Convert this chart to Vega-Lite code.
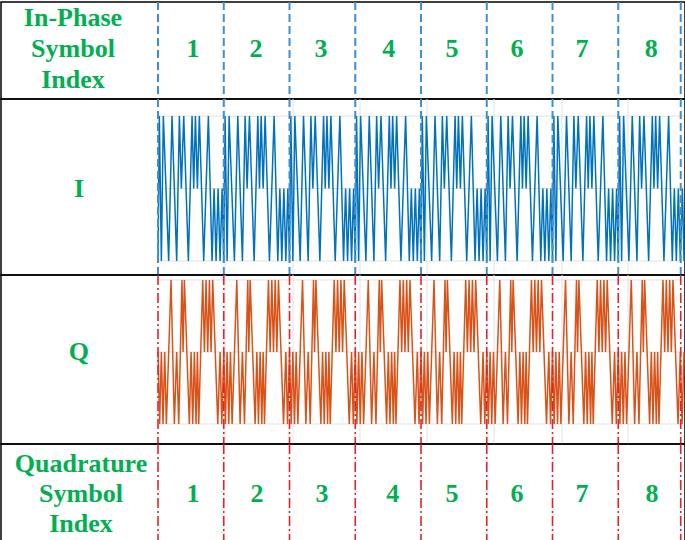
{
"$schema": "https://vega.github.io/schema/vega-lite/v6.json",
"padding": 0,
"spacing": 0,
"bounds": "flush",
"background": "white",
"config": {"view": {"stroke": "#000000", "strokeWidth": 1.5}},
"datasets": {
"hdr": [
{"x": -1.293, "y": 0.67, "label": "In-Phase\nSymbol\nIndex"},
{"x": 0.532, "y": 0.031, "label": "1"},{"x": 1.49, "y": 0.031, "label": "2"},{"x": 2.48, "y": 0.031, "label": "3"},{"x": 3.51, "y": 0.031, "label": "4"},
{"x": 4.47, "y": 0.031, "label": "5"},{"x": 5.46, "y": 0.031, "label": "6"},{"x": 6.45, "y": 0.031, "label": "7"},{"x": 7.5, "y": 0.031, "label": "8"}
],
"ftr": [
{"x": -1.171, "y": 0.588, "label": "Quadrature\nSymbol\nIndex"},
{"x": 0.532, "y": -0.03, "label": "1"},{"x": 1.505, "y": -0.03, "label": "2"},{"x": 2.495, "y": -0.03, "label": "3"},{"x": 3.57, "y": -0.03, "label": "4"},
{"x": 4.47, "y": -0.03, "label": "5"},{"x": 5.46, "y": -0.03, "label": "6"},{"x": 6.45, "y": -0.03, "label": "7"},{"x": 7.515, "y": -0.03, "label": "8"}
],
"bounds": [{"x": 0},{"x": 1},{"x": 2},{"x": 3},{"x": 4},{"x": 5},{"x": 6},{"x": 7},{"x": 7.95}],
"vgrid": [{"x": 1.019},{"x": 2.053},{"x": 3.072},{"x": 4.091},{"x": 5.11},{"x": 6.144},{"x": 7.148}],
"hgrid": [{"v": -1, "a": 0, "b": 8},{"v": 0, "a": 0, "b": 8},{"v": 1, "a": 0, "b": 8}],
"ilab": [{"x": -1.202, "v": 0, "label": "I"}],
"qlab": [{"x": -1.202, "v": 0, "label": "Q"}],
"iwave": [
{"x":0,"v":-1},{"x":0.02,"v":1},{"x":0.051,"v":-1},{"x":0.081,"v":1},{"x":0.162,"v":-1},{"x":0.213,"v":1},{"x":0.284,"v":-1},{"x":0.325,"v":1},{"x":0.355,"v":0},{"x":0.391,"v":1},{"x":0.462,"v":-1},{"x":0.518,"v":1},{"x":0.543,"v":0},{"x":0.569,"v":1},{"x":0.599,"v":0},{"x":0.629,"v":1},{"x":0.695,"v":-1},{"x":0.766,"v":1},{"x":0.822,"v":-1},{"x":0.853,"v":0},{"x":0.883,"v":-1},{"x":0.914,"v":0},{"x":0.944,"v":-1},{"x":0.975,"v":0},
{"x":1,"v":-1},{"x":1.02,"v":1},{"x":1.051,"v":-1},{"x":1.081,"v":1},{"x":1.162,"v":-1},{"x":1.213,"v":1},{"x":1.284,"v":-1},{"x":1.325,"v":1},{"x":1.355,"v":0},{"x":1.391,"v":1},{"x":1.462,"v":-1},{"x":1.518,"v":1},{"x":1.543,"v":0},{"x":1.569,"v":1},{"x":1.599,"v":0},{"x":1.629,"v":1},{"x":1.695,"v":-1},{"x":1.766,"v":1},{"x":1.822,"v":-1},{"x":1.853,"v":0},{"x":1.883,"v":-1},{"x":1.914,"v":0},{"x":1.944,"v":-1},{"x":1.975,"v":0},
{"x":2,"v":-1},{"x":2.02,"v":1},{"x":2.051,"v":-1},{"x":2.081,"v":1},{"x":2.162,"v":-1},{"x":2.213,"v":1},{"x":2.284,"v":-1},{"x":2.325,"v":1},{"x":2.355,"v":0},{"x":2.391,"v":1},{"x":2.462,"v":-1},{"x":2.518,"v":1},{"x":2.543,"v":0},{"x":2.569,"v":1},{"x":2.599,"v":0},{"x":2.629,"v":1},{"x":2.695,"v":-1},{"x":2.766,"v":1},{"x":2.822,"v":-1},{"x":2.853,"v":0},{"x":2.883,"v":-1},{"x":2.914,"v":0},{"x":2.944,"v":-1},{"x":2.975,"v":0},
{"x":3,"v":-1},{"x":3.02,"v":1},{"x":3.051,"v":-1},{"x":3.081,"v":1},{"x":3.162,"v":-1},{"x":3.213,"v":1},{"x":3.284,"v":-1},{"x":3.325,"v":1},{"x":3.355,"v":0},{"x":3.391,"v":1},{"x":3.462,"v":-1},{"x":3.518,"v":1},{"x":3.543,"v":0},{"x":3.569,"v":1},{"x":3.599,"v":0},{"x":3.629,"v":1},{"x":3.695,"v":-1},{"x":3.766,"v":1},{"x":3.822,"v":-1},{"x":3.853,"v":0},{"x":3.883,"v":-1},{"x":3.914,"v":0},{"x":3.944,"v":-1},{"x":3.975,"v":0},
{"x":4,"v":-1},{"x":4.02,"v":1},{"x":4.051,"v":-1},{"x":4.081,"v":1},{"x":4.162,"v":-1},{"x":4.213,"v":1},{"x":4.284,"v":-1},{"x":4.325,"v":1},{"x":4.355,"v":0},{"x":4.391,"v":1},{"x":4.462,"v":-1},{"x":4.518,"v":1},{"x":4.543,"v":0},{"x":4.569,"v":1},{"x":4.599,"v":0},{"x":4.629,"v":1},{"x":4.695,"v":-1},{"x":4.766,"v":1},{"x":4.822,"v":-1},{"x":4.853,"v":0},{"x":4.883,"v":-1},{"x":4.914,"v":0},{"x":4.944,"v":-1},{"x":4.975,"v":0},
{"x":5,"v":-1},{"x":5.02,"v":1},{"x":5.051,"v":-1},{"x":5.081,"v":1},{"x":5.162,"v":-1},{"x":5.213,"v":1},{"x":5.284,"v":-1},{"x":5.325,"v":1},{"x":5.355,"v":0},{"x":5.391,"v":1},{"x":5.462,"v":-1},{"x":5.518,"v":1},{"x":5.543,"v":0},{"x":5.569,"v":1},{"x":5.599,"v":0},{"x":5.629,"v":1},{"x":5.695,"v":-1},{"x":5.766,"v":1},{"x":5.822,"v":-1},{"x":5.853,"v":0},{"x":5.883,"v":-1},{"x":5.914,"v":0},{"x":5.944,"v":-1},{"x":5.975,"v":0},
{"x":6,"v":-1},{"x":6.02,"v":1},{"x":6.051,"v":-1},{"x":6.081,"v":1},{"x":6.162,"v":-1},{"x":6.213,"v":1},{"x":6.284,"v":-1},{"x":6.325,"v":1},{"x":6.355,"v":0},{"x":6.391,"v":1},{"x":6.462,"v":-1},{"x":6.518,"v":1},{"x":6.543,"v":0},{"x":6.569,"v":1},{"x":6.599,"v":0},{"x":6.629,"v":1},{"x":6.695,"v":-1},{"x":6.766,"v":1},{"x":6.822,"v":-1},{"x":6.853,"v":0},{"x":6.883,"v":-1},{"x":6.914,"v":0},{"x":6.944,"v":-1},{"x":6.975,"v":0},
{"x":7,"v":-1},{"x":7.02,"v":1},{"x":7.051,"v":-1},{"x":7.081,"v":1},{"x":7.162,"v":-1},{"x":7.213,"v":1},{"x":7.284,"v":-1},{"x":7.325,"v":1},{"x":7.355,"v":0},{"x":7.391,"v":1},{"x":7.462,"v":-1},{"x":7.518,"v":1},{"x":7.543,"v":0},{"x":7.569,"v":1},{"x":7.599,"v":0},{"x":7.629,"v":1},{"x":7.695,"v":-1},{"x":7.766,"v":1},{"x":7.822,"v":-1},{"x":7.853,"v":0},{"x":7.883,"v":-1},{"x":7.914,"v":0},{"x":7.944,"v":-1},{"x":7.975,"v":0},
{"x":8,"v":-1}
],
"qwave": [
{"x":0,"v":0},{"x":0.025,"v":-1},{"x":0.051,"v":0},{"x":0.076,"v":-1},{"x":0.102,"v":0},{"x":0.127,"v":-1},{"x":0.198,"v":1},{"x":0.249,"v":-1},{"x":0.284,"v":0},{"x":0.315,"v":-1},{"x":0.365,"v":1},{"x":0.381,"v":0},{"x":0.401,"v":1},{"x":0.477,"v":-1},{"x":0.503,"v":0},{"x":0.528,"v":-1},{"x":0.553,"v":0},{"x":0.579,"v":-1},{"x":0.599,"v":0},{"x":0.619,"v":-1},{"x":0.68,"v":1},{"x":0.706,"v":0},{"x":0.731,"v":1},{"x":0.756,"v":0},{"x":0.782,"v":1},{"x":0.807,"v":0},{"x":0.832,"v":1},{"x":0.909,"v":-1},{"x":0.944,"v":0},{"x":0.97,"v":-1},
{"x":1,"v":0},{"x":1.025,"v":-1},{"x":1.051,"v":0},{"x":1.076,"v":-1},{"x":1.102,"v":0},{"x":1.127,"v":-1},{"x":1.198,"v":1},{"x":1.249,"v":-1},{"x":1.284,"v":0},{"x":1.315,"v":-1},{"x":1.365,"v":1},{"x":1.381,"v":0},{"x":1.401,"v":1},{"x":1.477,"v":-1},{"x":1.503,"v":0},{"x":1.528,"v":-1},{"x":1.553,"v":0},{"x":1.579,"v":-1},{"x":1.599,"v":0},{"x":1.619,"v":-1},{"x":1.68,"v":1},{"x":1.706,"v":0},{"x":1.731,"v":1},{"x":1.756,"v":0},{"x":1.782,"v":1},{"x":1.807,"v":0},{"x":1.832,"v":1},{"x":1.909,"v":-1},{"x":1.944,"v":0},{"x":1.97,"v":-1},
{"x":2,"v":0},{"x":2.025,"v":-1},{"x":2.051,"v":0},{"x":2.076,"v":-1},{"x":2.102,"v":0},{"x":2.127,"v":-1},{"x":2.198,"v":1},{"x":2.249,"v":-1},{"x":2.284,"v":0},{"x":2.315,"v":-1},{"x":2.365,"v":1},{"x":2.381,"v":0},{"x":2.401,"v":1},{"x":2.477,"v":-1},{"x":2.503,"v":0},{"x":2.528,"v":-1},{"x":2.553,"v":0},{"x":2.579,"v":-1},{"x":2.599,"v":0},{"x":2.619,"v":-1},{"x":2.68,"v":1},{"x":2.706,"v":0},{"x":2.731,"v":1},{"x":2.756,"v":0},{"x":2.782,"v":1},{"x":2.807,"v":0},{"x":2.832,"v":1},{"x":2.909,"v":-1},{"x":2.944,"v":0},{"x":2.97,"v":-1},
{"x":3,"v":0},{"x":3.025,"v":-1},{"x":3.051,"v":0},{"x":3.076,"v":-1},{"x":3.102,"v":0},{"x":3.127,"v":-1},{"x":3.198,"v":1},{"x":3.249,"v":-1},{"x":3.284,"v":0},{"x":3.315,"v":-1},{"x":3.365,"v":1},{"x":3.381,"v":0},{"x":3.401,"v":1},{"x":3.477,"v":-1},{"x":3.503,"v":0},{"x":3.528,"v":-1},{"x":3.553,"v":0},{"x":3.579,"v":-1},{"x":3.599,"v":0},{"x":3.619,"v":-1},{"x":3.68,"v":1},{"x":3.706,"v":0},{"x":3.731,"v":1},{"x":3.756,"v":0},{"x":3.782,"v":1},{"x":3.807,"v":0},{"x":3.832,"v":1},{"x":3.909,"v":-1},{"x":3.944,"v":0},{"x":3.97,"v":-1},
{"x":4,"v":0},{"x":4.025,"v":-1},{"x":4.051,"v":0},{"x":4.076,"v":-1},{"x":4.102,"v":0},{"x":4.127,"v":-1},{"x":4.198,"v":1},{"x":4.249,"v":-1},{"x":4.284,"v":0},{"x":4.315,"v":-1},{"x":4.365,"v":1},{"x":4.381,"v":0},{"x":4.401,"v":1},{"x":4.477,"v":-1},{"x":4.503,"v":0},{"x":4.528,"v":-1},{"x":4.553,"v":0},{"x":4.579,"v":-1},{"x":4.599,"v":0},{"x":4.619,"v":-1},{"x":4.68,"v":1},{"x":4.706,"v":0},{"x":4.731,"v":1},{"x":4.756,"v":0},{"x":4.782,"v":1},{"x":4.807,"v":0},{"x":4.832,"v":1},{"x":4.909,"v":-1},{"x":4.944,"v":0},{"x":4.97,"v":-1},
{"x":5,"v":0},{"x":5.025,"v":-1},{"x":5.051,"v":0},{"x":5.076,"v":-1},{"x":5.102,"v":0},{"x":5.127,"v":-1},{"x":5.198,"v":1},{"x":5.249,"v":-1},{"x":5.284,"v":0},{"x":5.315,"v":-1},{"x":5.365,"v":1},{"x":5.381,"v":0},{"x":5.401,"v":1},{"x":5.477,"v":-1},{"x":5.503,"v":0},{"x":5.528,"v":-1},{"x":5.553,"v":0},{"x":5.579,"v":-1},{"x":5.599,"v":0},{"x":5.619,"v":-1},{"x":5.68,"v":1},{"x":5.706,"v":0},{"x":5.731,"v":1},{"x":5.756,"v":0},{"x":5.782,"v":1},{"x":5.807,"v":0},{"x":5.832,"v":1},{"x":5.909,"v":-1},{"x":5.944,"v":0},{"x":5.97,"v":-1},
{"x":6,"v":0},{"x":6.025,"v":-1},{"x":6.051,"v":0},{"x":6.076,"v":-1},{"x":6.102,"v":0},{"x":6.127,"v":-1},{"x":6.198,"v":1},{"x":6.249,"v":-1},{"x":6.284,"v":0},{"x":6.315,"v":-1},{"x":6.365,"v":1},{"x":6.381,"v":0},{"x":6.401,"v":1},{"x":6.477,"v":-1},{"x":6.503,"v":0},{"x":6.528,"v":-1},{"x":6.553,"v":0},{"x":6.579,"v":-1},{"x":6.599,"v":0},{"x":6.619,"v":-1},{"x":6.68,"v":1},{"x":6.706,"v":0},{"x":6.731,"v":1},{"x":6.756,"v":0},{"x":6.782,"v":1},{"x":6.807,"v":0},{"x":6.832,"v":1},{"x":6.909,"v":-1},{"x":6.944,"v":0},{"x":6.97,"v":-1},
{"x":7,"v":0},{"x":7.025,"v":-1},{"x":7.051,"v":0},{"x":7.076,"v":-1},{"x":7.102,"v":0},{"x":7.127,"v":-1},{"x":7.198,"v":1},{"x":7.249,"v":-1},{"x":7.284,"v":0},{"x":7.315,"v":-1},{"x":7.365,"v":1},{"x":7.381,"v":0},{"x":7.401,"v":1},{"x":7.477,"v":-1},{"x":7.503,"v":0},{"x":7.528,"v":-1},{"x":7.553,"v":0},{"x":7.579,"v":-1},{"x":7.599,"v":0},{"x":7.619,"v":-1},{"x":7.68,"v":1},{"x":7.706,"v":0},{"x":7.731,"v":1},{"x":7.756,"v":0},{"x":7.782,"v":1},{"x":7.807,"v":0},{"x":7.832,"v":1},{"x":7.909,"v":-1},{"x":7.944,"v":0},{"x":7.97,"v":-1},
{"x":8,"v":0}
]
},
"vconcat": [
{
"width": 684, "height": 97,
"layer": [
{"data": {"name": "hdr"},
 "mark": {"type": "text", "font": "Liberation Serif", "fontWeight": "bold", "fontSize": 26, "fill": "#00B050", "lineBreak": "\n", "lineHeight": 31, "baseline": "middle", "align": "center"},
 "encoding": {
  "x": {"field": "x", "type": "quantitative", "scale": {"domain": [-2.388, 8.015], "nice": false, "zero": false}, "axis": null},
  "y": {"field": "y", "type": "quantitative", "scale": {"domain": [-1, 1], "nice": false, "zero": false}, "axis": null},
  "text": {"field": "label", "type": "nominal"}}},
{"data": {"name": "bounds"},
 "mark": {"type": "rule", "color": "#3F8FD2", "strokeWidth": 2, "strokeDash": [8, 4]},
 "encoding": {"x": {"field": "x", "type": "quantitative", "scale": {"domain": [-2.388, 8.015], "nice": false, "zero": false}, "axis": null}}}
]
},
{
"width": 684, "height": 176,
"layer": [
{"data": {"name": "vgrid"},
 "mark": {"type": "rule", "color": "#E2E2E2", "strokeWidth": 1},
 "encoding": {"x": {"field": "x", "type": "quantitative", "scale": {"domain": [-2.388, 8.015], "nice": false, "zero": false}, "axis": null}}},
{"data": {"name": "hgrid"},
 "mark": {"type": "rule", "color": "#E2E2E2", "strokeWidth": 1},
 "encoding": {
  "x": {"field": "a", "type": "quantitative", "scale": {"domain": [-2.388, 8.015], "nice": false, "zero": false}, "axis": null},
  "x2": {"field": "b"},
  "y": {"field": "v", "type": "quantitative", "scale": {"domain": [-1.193, 1.235], "nice": false, "zero": false}, "axis": null}}},
{"data": {"name": "iwave"},
 "mark": {"type": "line", "color": "#0072BD", "strokeWidth": 1.5},
 "encoding": {
  "x": {"field": "x", "type": "quantitative", "scale": {"domain": [-2.388, 8.015], "nice": false, "zero": false}, "axis": null},
  "y": {"field": "v", "type": "quantitative", "scale": {"domain": [-1.193, 1.235], "nice": false, "zero": false}, "axis": null}}},
{"data": {"name": "ilab"},
 "mark": {"type": "text", "font": "Liberation Serif", "fontWeight": "bold", "fontSize": 26, "fill": "#00B050", "baseline": "middle", "align": "center"},
 "encoding": {
  "x": {"field": "x", "type": "quantitative", "scale": {"domain": [-2.388, 8.015], "nice": false, "zero": false}, "axis": null},
  "y": {"field": "v", "type": "quantitative", "scale": {"domain": [-1.193, 1.235], "nice": false, "zero": false}, "axis": null},
  "text": {"field": "label", "type": "nominal"}}},
{"data": {"name": "bounds"},
 "mark": {"type": "rule", "color": "#3F8FD2", "strokeWidth": 2, "strokeDash": [8, 4]},
 "encoding": {"x": {"field": "x", "type": "quantitative", "scale": {"domain": [-2.388, 8.015], "nice": false, "zero": false}, "axis": null}}}
]
},
{
"width": 684, "height": 169,
"layer": [
{"data": {"name": "vgrid"},
 "mark": {"type": "rule", "color": "#E2E2E2", "strokeWidth": 1},
 "encoding": {"x": {"field": "x", "type": "quantitative", "scale": {"domain": [-2.388, 8.015], "nice": false, "zero": false}, "axis": null}}},
{"data": {"name": "hgrid"},
 "mark": {"type": "rule", "color": "#E2E2E2", "strokeWidth": 1},
 "encoding": {
  "x": {"field": "a", "type": "quantitative", "scale": {"domain": [-2.388, 8.015], "nice": false, "zero": false}, "axis": null},
  "x2": {"field": "b"},
  "y": {"field": "v", "type": "quantitative", "scale": {"domain": [-1.278, 1.069], "nice": false, "zero": false}, "axis": null}}},
{"data": {"name": "qwave"},
 "mark": {"type": "line", "color": "#D95319", "strokeWidth": 1.5},
 "encoding": {
  "x": {"field": "x", "type": "quantitative", "scale": {"domain": [-2.388, 8.015], "nice": false, "zero": false}, "axis": null},
  "y": {"field": "v", "type": "quantitative", "scale": {"domain": [-1.278, 1.069], "nice": false, "zero": false}, "axis": null}}},
{"data": {"name": "qlab"},
 "mark": {"type": "text", "font": "Liberation Serif", "fontWeight": "bold", "fontSize": 26, "fill": "#00B050", "baseline": "middle", "align": "center"},
 "encoding": {
  "x": {"field": "x", "type": "quantitative", "scale": {"domain": [-2.388, 8.015], "nice": false, "zero": false}, "axis": null},
  "y": {"field": "v", "type": "quantitative", "scale": {"domain": [-1.278, 1.069], "nice": false, "zero": false}, "axis": null},
  "text": {"field": "label", "type": "nominal"}}},
{"data": {"name": "bounds"},
 "mark": {"type": "rule", "color": "#E8202A", "strokeWidth": 1.6, "strokeDash": [10, 3, 2, 3]},
 "encoding": {"x": {"field": "x", "type": "quantitative", "scale": {"domain": [-2.388, 8.015], "nice": false, "zero": false}, "axis": null}}}
]
},
{
"width": 684, "height": 97,
"layer": [
{"data": {"name": "ftr"},
 "mark": {"type": "text", "font": "Liberation Serif", "fontWeight": "bold", "fontSize": 26, "fill": "#00B050", "lineBreak": "\n", "lineHeight": 30, "baseline": "middle", "align": "center"},
 "encoding": {
  "x": {"field": "x", "type": "quantitative", "scale": {"domain": [-2.388, 8.015], "nice": false, "zero": false}, "axis": null},
  "y": {"field": "y", "type": "quantitative", "scale": {"domain": [-1, 1], "nice": false, "zero": false}, "axis": null},
  "text": {"field": "label", "type": "nominal"}}},
{"data": {"name": "bounds"},
 "mark": {"type": "rule", "color": "#E8202A", "strokeWidth": 1.6, "strokeDash": [10, 3, 2, 3]},
 "encoding": {"x": {"field": "x", "type": "quantitative", "scale": {"domain": [-2.388, 8.015], "nice": false, "zero": false}, "axis": null}}}
]
}
]
}
